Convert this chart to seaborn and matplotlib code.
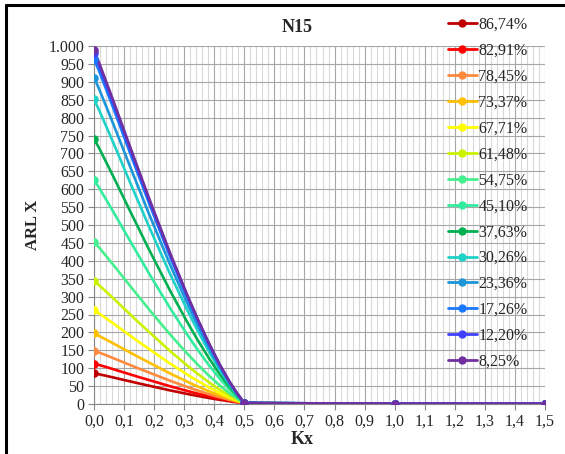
import numpy as np
import pandas as pd
import matplotlib
matplotlib.use("Agg")
import matplotlib.pyplot as plt
from matplotlib.path import Path
from matplotlib.patches import PathPatch
from matplotlib.lines import Line2D
from matplotlib.ticker import FuncFormatter, MultipleLocator
import seaborn as sns

# ---- data -------------------------------------------------------------
kx = [0.0, 0.5, 1.0, 1.5]
labels = ["86,74%", "82,91%", "78,45%", "73,37%", "67,71%", "61,48%", "54,75%",
          "45,10%", "37,63%", "30,26%", "23,36%", "17,26%", "12,20%", "8,25%"]
arl_at_0 = [86, 113, 149, 197, 262, 344, 453, 626, 741, 851, 912, 964, 981, 988]
arl_at_05 = [2.5, 2.6, 2.7, 2.8, 2.9, 3.0, 3.1, 3.2, 3.3, 3.4, 3.5, 3.5, 3.6, 3.6]
arl_at_10 = [1.0] * 14
arl_at_15 = [1.0] * 14
colors = ["#C00000", "#FF0000", "#FF8A3D", "#FFC000", "#FFFF00", "#CCF200",
          "#45F08E", "#33EC9E", "#00B050", "#1ED2C8", "#1C96D8", "#1A78FF",
          "#4040FF", "#7030A0"]

rows = []
for lab, a, b, c, d in zip(labels, arl_at_0, arl_at_05, arl_at_10, arl_at_15):
    for x, y in zip(kx, [a, b, c, d]):
        rows.append({"Kx": x, "ARL": y, "serie": lab})
df = pd.DataFrame(rows)


def smooth_path(xs, ys):
    """Cubic Bezier path through the points, spreadsheet-style smoothing."""
    pts = np.column_stack([xs, ys]).astype(float)
    n = len(pts)
    verts = [tuple(pts[0])]
    codes = [Path.MOVETO]
    for i in range(n - 1):
        p0 = pts[i - 1] if i > 0 else pts[i]
        p1 = pts[i]
        p2 = pts[i + 1]
        p3 = pts[i + 2] if i + 2 < n else pts[i + 1]
        d02 = np.hypot(*(p2 - p0))
        d12 = np.hypot(*(p2 - p1))
        d13 = np.hypot(*(p3 - p1))
        f0 = 1 / 6 if d02 / 6 < d12 / 2 else d12 / d02 / 2
        f1 = 1 / 6 if d13 / 6 < d12 / 2 else d12 / d13 / 2
        b1 = p1 + (p2 - p0) * f0
        b2 = p2 - (p3 - p1) * f1
        verts += [tuple(b1), tuple(b2), tuple(p2)]
        codes += [Path.CURVE4] * 3
    return Path(verts, codes)


# ---- figure -----------------------------------------------------------
sns.set_theme(style="white")
plt.rcParams["font.family"] = ["Liberation Serif", "DejaVu Serif"]

W, H = 565, 454
fig = plt.figure(figsize=(W / 100, H / 100), dpi=100)
ax = fig.add_axes([94 / W, 1 - 404 / H, (545 - 94) / W, (404 - 46) / H])

for lab, col in zip(labels, colors):
    sub = df[df["serie"] == lab]
    ax.add_patch(PathPatch(smooth_path(sub["Kx"].values, sub["ARL"].values),
                           facecolor="none", edgecolor=col, lw=1.9,
                           capstyle="round", joinstyle="round", zorder=3))
    sns.scatterplot(data=sub, x="Kx", y="ARL", color=col, s=38, linewidth=0,
                    ax=ax, zorder=4, legend=False)

ax.set_xlim(0, 1.5)
ax.set_ylim(0, 1000)
ax.xaxis.set_major_locator(MultipleLocator(0.1))
ax.xaxis.set_minor_locator(MultipleLocator(0.02))
ax.yaxis.set_major_locator(MultipleLocator(50))
ax.xaxis.set_major_formatter(FuncFormatter(lambda v, p: f"{v:.1f}".replace(".", ",")))
ax.yaxis.set_major_formatter(
    FuncFormatter(lambda v, p: f"{int(round(v)):,}".replace(",", ".")))

ax.grid(which="major", axis="both", color="#A6A6A6", lw=0.8, zorder=0)
ax.grid(which="minor", axis="x", color="#D9D9D9", lw=0.8, zorder=0)
ax.set_axisbelow(True)
for s in ["top", "right"]:
    ax.spines[s].set_visible(False)
for s in ["left", "bottom"]:
    ax.spines[s].set_color("#868686")
    ax.spines[s].set_linewidth(0.8)
ax.tick_params(axis="both", which="major", direction="out", length=4, width=0.8,
               color="#868686", labelsize=11.5, labelcolor="#262626",
               left=True, bottom=True, pad=3)
ax.tick_params(axis="x", which="minor", length=0)
ax.set_xlabel("")
ax.set_ylabel("")

fig.text(297 / W, 1 - 28 / H, "N15", ha="center", va="center",
         fontsize=13, fontweight="bold", color="#262626")
fig.text(302 / W, 1 - 440 / H, "Kx", ha="center", va="center",
         fontsize=13, fontweight="bold", color="#262626")
fig.text(33 / W, 1 - 225 / H, "ARL X", ha="center", va="center", rotation=90,
         fontsize=12, fontweight="bold", color="#262626")

handles = [Line2D([], [], color=c, lw=2, marker="o", markersize=5) for c in colors]
fig.legend(handles, labels, loc="upper left", bbox_to_anchor=(440 / W, 1 - 9 / H),
           frameon=False, fontsize=11.5, handlelength=1.8, handletextpad=0.1,
           labelspacing=0.62, borderpad=0, labelcolor="#262626")

# chart border
fig.add_artist(Line2D([6 / W, 6 / W], [0, 1 - 5 / H], transform=fig.transFigure,
                      color="black", lw=2.2))
fig.add_artist(Line2D([6 / W, 1], [1 - 5 / H, 1 - 5 / H], transform=fig.transFigure,
                      color="black", lw=2.2))

fig.savefig("out.png", dpi=100)
